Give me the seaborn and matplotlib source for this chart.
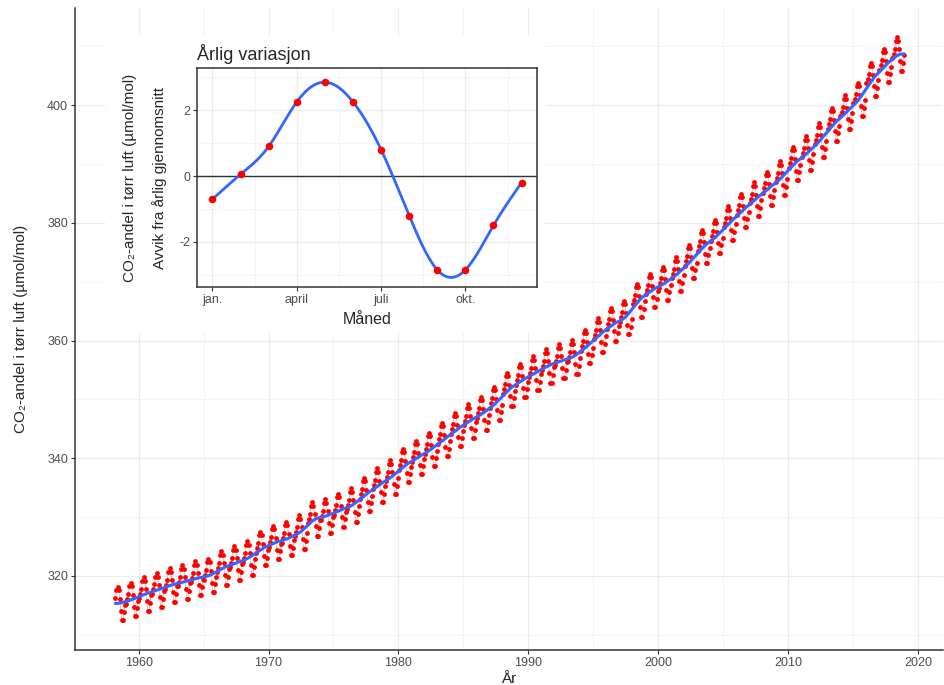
import numpy as np
import pandas as pd
import seaborn as sns
import matplotlib.pyplot as plt
from matplotlib.patches import Rectangle
from matplotlib.ticker import MultipleLocator, FixedLocator

# Årsmiddel CO2 (Mauna Loa), 1958 er bare mars-desember
aar = list(range(1958, 2019))
aarsmiddel = [315.30, 315.97, 316.91, 317.64, 318.45, 318.99, 319.62, 320.04, 321.37, 322.18,
              323.05, 324.62, 325.68, 326.32, 327.46, 329.68, 330.19, 331.13, 332.03, 333.84,
              335.41, 336.84, 338.76, 340.12, 341.48, 343.15, 344.85, 346.35, 347.61, 349.31,
              351.69, 353.20, 354.45, 355.70, 356.54, 357.21, 358.96, 360.97, 362.74, 363.88,
              366.84, 368.54, 369.71, 371.32, 373.45, 375.98, 377.70, 379.98, 382.09, 384.02,
              385.83, 387.64, 390.10, 391.85, 394.06, 396.74, 398.81, 401.01, 404.41, 406.76,
              408.72]

# Avvik fra årlig gjennomsnitt per måned (innfelt figur)
maaned = list(range(1, 13))
avvik = [-0.7, 0.05, 0.9, 2.25, 2.85, 2.25, 0.8, -1.2, -2.85, -2.85, -1.5, -0.2]
maaned_ticks = [1, 4, 7, 10]
maaned_navn = ['jan.', 'april', 'juli', 'okt.']

rader = []
for a, m in zip(aar, aarsmiddel):
    for mnd, d in zip(maaned, avvik):
        if a == 1958 and mnd < 3:
            continue
        rader.append((a + (mnd - 0.5) / 12, m + d, m))
df = pd.DataFrame(rader, columns=['tid', 'co2', 'nivaa'])
df['glatt'] = df['nivaa'].rolling(13, center=True, min_periods=1).mean()
df['glatt'] = df['glatt'].rolling(7, center=True, min_periods=1).mean()

# naturlig kubisk spline gjennom månedsavvikene
xs = np.array(maaned, float)
ys = np.array(avvik, float)
n = len(xs)
A = np.zeros((n, n))
b = np.zeros(n)
A[0, 0] = A[-1, -1] = 1
for i in range(1, n - 1):
    A[i, i - 1], A[i, i], A[i, i + 1] = 1, 4, 1
    b[i] = 6 * (ys[i + 1] - 2 * ys[i] + ys[i - 1])
M = np.linalg.solve(A, b)
tt = np.linspace(1, 12, 400)
idx = np.clip(np.floor(tt - 1).astype(int), 0, n - 2)
u = tt - xs[idx]
kurve = (M[idx] * (1 - u) ** 3 / 6 + M[idx + 1] * u ** 3 / 6
         + (ys[idx] - M[idx] / 6) * (1 - u) + (ys[idx + 1] - M[idx + 1] / 6) * u)

sns.set_theme(style='white')
plt.rcParams['font.family'] = ['Liberation Sans', 'DejaVu Sans']
plt.rcParams['axes.unicode_minus'] = False

fig = plt.figure(figsize=(9.45, 6.85), dpi=100)
ax = fig.add_axes([0.0794, 0.0511, 0.918, 0.937])

sns.lineplot(x=df['tid'], y=df['co2'], ax=ax, color='red', lw=0.4, alpha=0.45)
sns.scatterplot(x=df['tid'], y=df['co2'], ax=ax, color='red', s=12, linewidth=0, zorder=3)
sns.lineplot(x=df['tid'], y=df['glatt'], ax=ax, color='#3366FF', lw=2.2, zorder=4)

ax.set_xlim(1955.1, 2021.9)
ax.set_ylim(307.4, 416.5)
ax.xaxis.set_major_locator(MultipleLocator(10))
ax.xaxis.set_minor_locator(MultipleLocator(5))
ax.yaxis.set_major_locator(MultipleLocator(20))
ax.yaxis.set_minor_locator(MultipleLocator(10))
ax.grid(which='major', color='#EBEBEB', lw=0.9)
ax.grid(which='minor', color='#F2F2F2', lw=0.6)
ax.set_axisbelow(True)
for s in ['top', 'right']:
    ax.spines[s].set_visible(False)
for s in ['left', 'bottom']:
    ax.spines[s].set_color('#333333')
    ax.spines[s].set_linewidth(1.1)
ax.tick_params(which='major', length=3, width=0.8, color='#333333', labelsize=9,
               labelcolor='#4D4D4D', bottom=True, left=True, pad=2)
ax.tick_params(which='minor', length=0)
ax.set_xlabel('År', fontsize=11, labelpad=2)
ax.set_ylabel('CO₂-andel i tørr luft (µmol/mol)', fontsize=11, labelpad=14)

# hvit bakgrunn for innfelt figur
fig.patches.append(Rectangle((0.111, 0.514), 0.466, 0.435, transform=fig.transFigure,
                             facecolor='white', edgecolor='none', zorder=0.5))

ins = fig.add_axes([0.2085, 0.581, 0.3598, 0.3197])
ins.set_zorder(1)
ins.axhline(0, color='#333333', lw=1.0, zorder=2)
sns.lineplot(x=tt, y=kurve, ax=ins, color='#3366FF', lw=2.0, zorder=3)
sns.scatterplot(x=maaned, y=avvik, ax=ins, color='red', s=30, linewidth=0, zorder=4)
ins.set_xlim(0.45, 12.55)
ins.set_ylim(-3.37, 3.28)
ins.xaxis.set_major_locator(FixedLocator(maaned_ticks))
ins.set_xticklabels(maaned_navn)
ins.xaxis.set_minor_locator(FixedLocator([2.5, 5.5, 8.5, 11.5]))
ins.yaxis.set_major_locator(MultipleLocator(2))
ins.yaxis.set_minor_locator(MultipleLocator(1))
ins.grid(which='major', color='#EBEBEB', lw=0.9)
ins.grid(which='minor', color='#F2F2F2', lw=0.6)
ins.set_axisbelow(True)
for s in ins.spines.values():
    s.set_color('#333333')
    s.set_linewidth(1.1)
ins.tick_params(which='major', length=3, width=0.8, color='#333333', labelsize=9,
                labelcolor='#4D4D4D', bottom=True, left=True, pad=2)
ins.tick_params(which='minor', length=0)
ins.set_xlabel('Måned', fontsize=11.5, labelpad=4)
ins.set_ylabel('CO₂-andel i tørr luft (µmol/mol)\nAvvik fra årlig gjennomsnitt',
               fontsize=11, labelpad=9, linespacing=2.2)
ins.set_title('Årlig variasjon', fontsize=13, loc='left', pad=6)

fig.savefig('out.png', dpi=100)
